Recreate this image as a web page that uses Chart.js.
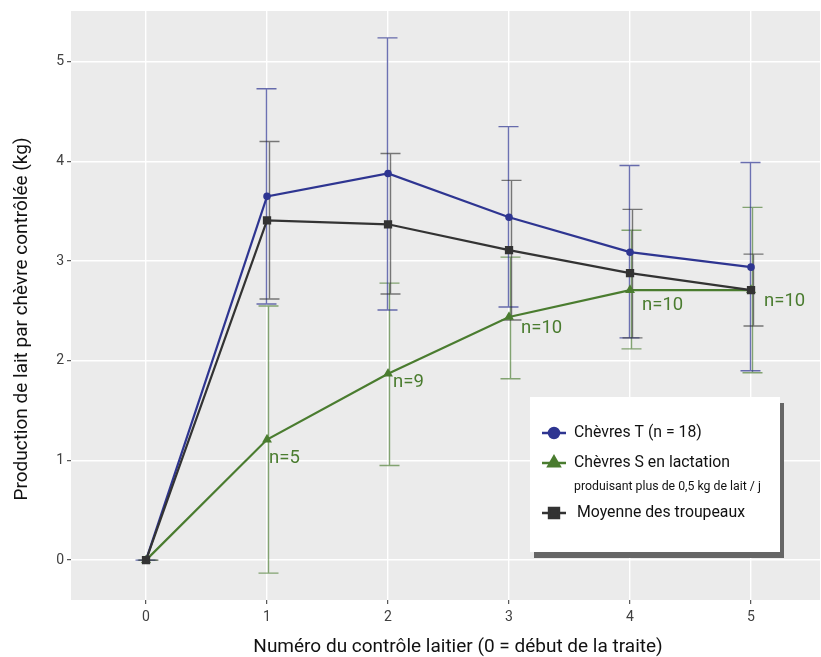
<!DOCTYPE html>
<html lang="fr">
<head>
<meta charset="utf-8">
<title>Production de lait par chèvre contrôlée</title>
<script src="https://cdn.jsdelivr.net/npm/chart.js@4.4.1/dist/chart.umd.min.js"></script>
<style>
    html, body { margin: 0; padding: 0; background: #fff; }
    #wrap { width: 821px; height: 657px; }
</style>
</head>
<body>
<div id="wrap"><canvas id="laitChart" width="821" height="657"></canvas></div>
<script>
// Données (kg de lait par chèvre contrôlée)
const controles = [0, 1, 2, 3, 4, 5];

const chevresT      = [0, 3.65, 3.88, 3.44, 3.09, 2.94];
const chevresTHaut  = [0, 4.73, 5.24, 4.35, 3.96, 3.99];
const chevresTBas   = [0, 2.57, 2.51, 2.54, 2.23, 1.90];

const chevresS      = [0, 1.21, 1.87, 2.44, 2.71, 2.71];
const chevresSHaut  = [0, 2.55, 2.78, 3.04, 3.31, 3.54];
const chevresSBas   = [0, -0.13, 0.95, 1.82, 2.12, 1.88];

const moyenne       = [0, 3.41, 3.37, 3.11, 2.88, 2.71];
const moyenneHaut   = [0, 4.20, 4.08, 3.81, 3.52, 3.07];
const moyenneBas    = [0, 2.62, 2.67, 2.41, 2.23, 2.35];

const effectifsS = ['', 'n=5', 'n=9', 'n=10', 'n=10', 'n=10'];

const xTicks = [0, 1, 2, 3, 4, 5];
const yTicks = [0, 1, 2, 3, 4, 5];

const titreX = 'Numéro du contrôle laitier (0 = début de la traite)';
const titreY = 'Production de lait par chèvre contrôlée (kg)';

// Couleurs
const BLEU = '#2e3591';
const VERT = '#4a7c2f';
const NOIR = '#333333';

// décalage (px) des étiquettes n=… par rapport au point
const decalagesN = [[0, 0], [2, 19], [5, 9], [12, 11], [12, 15], [13, 11]];

function points(ys) {
    return controles.map((c, i) => ({ x: c, y: ys[i] }));
}

// --- fond gris de la zone de tracé ---
const fondGris = {
    id: 'fondGris',
    beforeDraw(chart) {
        const { ctx, chartArea: a } = chart;
        ctx.save();
        ctx.fillStyle = '#ebebeb';
        ctx.fillRect(a.left, a.top, a.right - a.left, a.bottom - a.top);
        ctx.restore();
    }
};

// --- titres des axes ---
const titresAxes = {
    id: 'titresAxes',
    afterDraw(chart) {
        const ctx = chart.ctx;
        ctx.save();
        ctx.fillStyle = '#111111';
        ctx.font = '19px Roboto';
        ctx.textAlign = 'center';
        ctx.textBaseline = 'middle';
        ctx.fillText(titreX, 458, 647);
        ctx.translate(22, 319);
        ctx.rotate(-Math.PI / 2);
        ctx.fillText(titreY, 0, 0);
        ctx.restore();
    }
};

// --- barres d'erreur ---
const seriesErreurs = [
    { haut: chevresSHaut, bas: chevresSBas, couleur: 'rgba(74,124,47,0.65)', dx: 0.5 },
    { haut: chevresTHaut, bas: chevresTBas, couleur: 'rgba(46,53,145,0.7)', dx: -1.5 },
    { haut: moyenneHaut, bas: moyenneBas, couleur: 'rgba(40,40,40,0.6)', dx: 1.5 }
];

const barresErreur = {
    id: 'barresErreur',
    beforeDatasetsDraw(chart) {
        const ctx = chart.ctx;
        const xs = chart.scales.x, ys = chart.scales.y;
        seriesErreurs.forEach(s => {
            ctx.save();
            ctx.strokeStyle = s.couleur;
            ctx.lineWidth = 1.4;
            controles.forEach((c, i) => {
                const px = Math.round(xs.getPixelForValue(c) + s.dx) + 0.5;
                const yh = ys.getPixelForValue(s.haut[i]);
                const yb = ys.getPixelForValue(s.bas[i]);
                ctx.beginPath();
                ctx.moveTo(px, yh); ctx.lineTo(px, yb);
                ctx.moveTo(px - 10, yh); ctx.lineTo(px + 10, yh);
                ctx.moveTo(px - 10, yb); ctx.lineTo(px + 10, yb);
                ctx.stroke();
            });
            ctx.restore();
        });
    }
};

// --- étiquettes n=… ---
const etiquettesN = {
    id: 'etiquettesN',
    afterDatasetsDraw(chart) {
        const ctx = chart.ctx;
        const xs = chart.scales.x, ys = chart.scales.y;
        ctx.save();
        ctx.font = '18.5px Roboto';
        ctx.fillStyle = VERT;
        ctx.textAlign = 'left';
        ctx.textBaseline = 'middle';
        effectifsS.forEach((t, i) => {
            if (!t) return;
            const px = xs.getPixelForValue(controles[i]) + decalagesN[i][0];
            const py = ys.getPixelForValue(chevresS[i]) + decalagesN[i][1];
            ctx.fillText(t, px, py);
        });
        ctx.restore();
    }
};

// --- légende encadrée avec ombre ---
const legendeBoite = {
    id: 'legendeBoite',
    afterDraw(chart) {
        const ctx = chart.ctx;
        const bx = 530, by = 397, bw = 250, bh = 155;
        ctx.save();
        ctx.fillStyle = '#666666';
        ctx.fillRect(bx + 4, by + 6, bw, bh);
        ctx.fillStyle = '#ffffff';
        ctx.fillRect(bx, by, bw, bh);

        function symbole(y, couleur, style, r) {
            ctx.strokeStyle = couleur;
            ctx.fillStyle = couleur;
            ctx.lineWidth = 2.5;
            ctx.beginPath();
            ctx.moveTo(542, y); ctx.lineTo(566, y);
            ctx.stroke();
            Chart.helpers.drawPoint(ctx, { pointStyle: style, radius: r, borderWidth: 1 }, 554, y);
        }
        symbole(433, BLEU, 'circle', 5);
        symbole(463, VERT, 'triangle', 6.5);
        symbole(513, NOIR, 'rect', 7);

        ctx.fillStyle = '#111111';
        ctx.textAlign = 'left';
        ctx.textBaseline = 'middle';
        ctx.font = '15.8px Roboto';
        ctx.fillText('Chèvres T (n = 18)', 574, 433);
        ctx.fillText('Chèvres S en lactation', 574, 463);
        ctx.fillText('Moyenne des troupeaux', 577, 513);
        ctx.font = '12.3px Roboto';
        ctx.fillText('produisant plus de 0,5 kg de lait / j', 574, 487);
        ctx.restore();
    }
};

const config = {
    type: 'line',
    data: {
        datasets: [
            {
                label: 'Chèvres T (n = 18)',
                data: points(chevresT),
                borderColor: BLEU,
                backgroundColor: BLEU,
                borderWidth: 2.2,
                pointStyle: 'circle',
                pointRadius: 2.7,
                order: 2
            },
            {
                label: 'Chèvres S en lactation',
                data: points(chevresS),
                borderColor: VERT,
                backgroundColor: VERT,
                borderWidth: 2.2,
                pointStyle: 'triangle',
                pointRadius: 3.5,
                order: 3
            },
            {
                label: 'Moyenne des troupeaux',
                data: points(moyenne),
                borderColor: NOIR,
                backgroundColor: NOIR,
                borderWidth: 2.2,
                pointStyle: 'rect',
                pointRadius: 4.3,
                order: 1
            }
        ]
    },
    options: {
        responsive: false,
        animation: false,
        layout: { autoPadding: false, padding: { top: 11, right: 1, left: 0, bottom: 0 } },
        plugins: {
            legend: { display: false },
            tooltip: { enabled: false }
        },
        scales: {
            x: {
                type: 'linear',
                min: -0.62,
                max: 5.57,
                afterBuildTicks: s => { s.ticks = xTicks.map(v => ({ value: v })); },
                afterFit: s => { s.height = 57; s.paddingLeft = 0; s.paddingRight = 0; },
                grid: { color: '#ffffff', lineWidth: 1.4, tickColor: '#333333', tickLength: 4, tickWidth: 1 },
                border: { display: false },
                ticks: { color: '#404040', font: { family: 'Roboto', size: 14 }, padding: 5 }
            },
            y: {
                type: 'linear',
                min: -0.40,
                max: 5.51,
                afterBuildTicks: s => { s.ticks = yTicks.map(v => ({ value: v })); },
                afterFit: s => { s.width = 71; s.paddingTop = 0; s.paddingBottom = 0; },
                grid: { color: '#ffffff', lineWidth: 1.4, tickColor: '#333333', tickLength: 4, tickWidth: 1 },
                border: { display: false },
                ticks: { color: '#404040', font: { family: 'Roboto', size: 14 }, padding: 3 }
            }
        }
    },
    plugins: [fondGris, barresErreur, etiquettesN, legendeBoite, titresAxes]
};

document.addEventListener('DOMContentLoaded', function () {
    const ctx = document.getElementById('laitChart');
    if (ctx) {
        new Chart(ctx.getContext('2d'), config);
    }
});
</script>
</body>
</html>
